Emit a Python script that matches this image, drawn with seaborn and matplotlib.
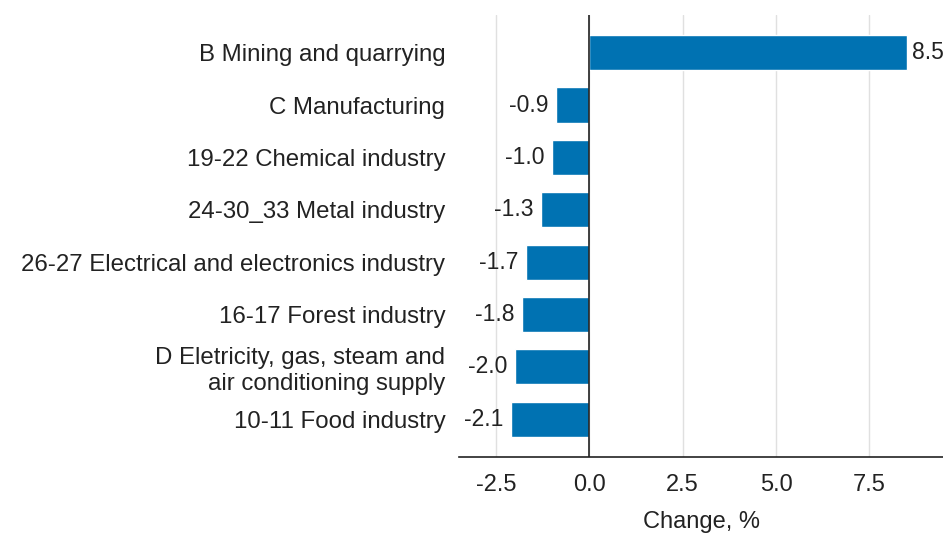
import matplotlib
matplotlib.use("Agg")
import matplotlib.pyplot as plt
import pandas as pd
import seaborn as sns

sns.set_style("whitegrid")
plt.rcParams['font.family'] = ['Liberation Sans', 'DejaVu Sans']

# data
industries = [
    "B Mining and quarrying",
    "C Manufacturing",
    "19-22 Chemical industry",
    "24-30_33 Metal industry",
    "26-27 Electrical and electronics industry",
    "16-17 Forest industry",
    "D Eletricity, gas, steam and\nair conditioning supply",
    "10-11 Food industry",
]
change = [8.5, -0.9, -1.0, -1.3, -1.7, -1.8, -2.0, -2.1]
xticks = [-2.5, 0.0, 2.5, 5.0, 7.5]

df = pd.DataFrame({"industry": industries, "change": change})

fig, ax = plt.subplots(figsize=(9.43, 5.35), dpi=100)
fig.subplots_adjust(left=0.487, right=1.0, top=0.972, bottom=0.146)

sns.barplot(data=df, x="change", y="industry", color="#0072b2",
            saturation=1, width=0.67, ax=ax)

for p, v in zip(ax.patches, change):
    y = p.get_y() + p.get_height() / 2
    if v >= 0:
        ax.text(v + 0.15, y, f"{v:.1f}", va="center", ha="left", fontsize=16.5,
                color="#222222", clip_on=False)
    else:
        ax.text(v - 0.2, y, f"{v:.1f}", va="center", ha="right", fontsize=16.5,
                color="#222222")

ax.axvline(0, color="#222222", lw=1.2, zorder=3)
ax.set_xlim(-3.48, 9.47)
ax.set_ylim(7.72, -0.72)
ax.set_xticks(xticks)
ax.set_xticklabels([f"{t:.1f}" for t in xticks])
ax.grid(axis="y", visible=False)
ax.grid(axis="x", color="#e0e0e0", lw=1)
ax.set_xlabel("Change, %", fontsize=17, labelpad=11, color="#222222")
ax.set_ylabel("")
ax.tick_params(axis="y", labelsize=17.3, length=0, pad=10, labelcolor="#222222")
ax.tick_params(axis="x", labelsize=17, length=0, pad=12, labelcolor="#222222")
sns.despine(ax=ax, left=True, top=True, right=True)
ax.spines["bottom"].set_color("#222222")
ax.spines["bottom"].set_linewidth(1.2)

plt.savefig("out.png", dpi=100)
